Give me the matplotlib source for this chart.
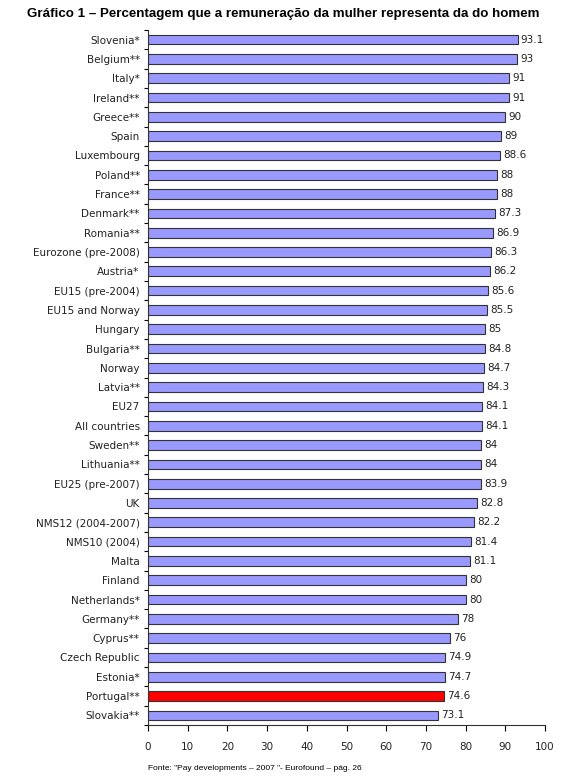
import matplotlib
matplotlib.use("Agg")
import matplotlib.pyplot as plt
import numpy as np

countries = ["Slovenia*", "Belgium**", "Italy*", "Ireland**", "Greece**", "Spain", "Luxembourg",
             "Poland**", "France**", "Denmark**", "Romania**", "Eurozone (pre-2008)", "Austria*",
             "EU15 (pre-2004)", "EU15 and Norway", "Hungary", "Bulgaria**", "Norway", "Latvia**",
             "EU27", "All countries", "Sweden**", "Lithuania**", "EU25 (pre-2007)", "UK",
             "NMS12 (2004-2007)", "NMS10 (2004)", "Malta", "Finland", "Netherlands*", "Germany**",
             "Cyprus**", "Czech Republic", "Estonia*", "Portugal**", "Slovakia**"]
values = [93.1, 93, 91, 91, 90, 89, 88.6, 88, 88, 87.3, 86.9, 86.3, 86.2, 85.6, 85.5, 85, 84.8,
          84.7, 84.3, 84.1, 84.1, 84, 84, 83.9, 82.8, 82.2, 81.4, 81.1, 80, 80, 78, 76, 74.9,
          74.7, 74.6, 73.1]
labels = ["93.1", "93", "91", "91", "90", "89", "88.6", "88", "88", "87.3", "86.9", "86.3", "86.2",
          "85.6", "85.5", "85", "84.8", "84.7", "84.3", "84.1", "84.1", "84", "84", "83.9", "82.8",
          "82.2", "81.4", "81.1", "80", "80", "78", "76", "74.9", "74.7", "74.6", "73.1"]
highlight = "Portugal**"
xticks = [0, 10, 20, 30, 40, 50, 60, 70, 80, 90, 100]
title = "Gráfico 1 – Percentagem que a remuneração da mulher representa da do homem"
source = "Fonte: \"Pay developments – 2007 \"- Eurofound – pág. 26"

fig = plt.figure(figsize=(5.67, 7.83), dpi=100)
n = len(countries)
top = 1 - 30 / 783
bottom = 1 - 725 / 783
ax = fig.add_axes([148 / 567, bottom, (545 - 148) / 567, top - bottom])

y = np.arange(n)
colors = ["#ff0000" if c == highlight else "#9999ff" for c in countries]
ax.barh(y, values, height=0.5, color=colors, edgecolor="#333333", linewidth=0.8)
for yi, v, lab in zip(y, values, labels):
    ax.text(v + 0.8, yi, lab, va="center", ha="left", fontsize=7.5, color="#222222",
            family="DejaVu Sans")

ax.set_ylim(n - 0.5, -0.5)
ax.set_xlim(0, 100)
ax.set_yticks(y)
ax.set_yticklabels(countries, fontsize=7.5, color="#222222", family="DejaVu Sans")
ax.tick_params(axis="y", length=0, pad=6)
ax.set_yticks(np.arange(n + 1) - 0.5, minor=True)
ax.tick_params(axis="y", which="minor", length=3, width=0.8)
ax.set_xticks(xticks)
ax.set_xticklabels([str(t) for t in xticks], fontsize=7.5, color="#222222", family="DejaVu Sans")
ax.tick_params(axis="x", length=4, width=0.8, pad=8)
for s in ["top", "right"]:
    ax.spines[s].set_visible(False)
for s in ["left", "bottom"]:
    ax.spines[s].set_linewidth(0.8)
    ax.spines[s].set_color("#333333")

fig.text(0.5, 1 - 14 / 783, title, ha="center", va="center", fontsize=9.6, fontweight="bold",
         family=["Liberation Sans Narrow", "Liberation Sans", "DejaVu Sans"])
fig.text(148 / 567, 1 - 768 / 783, source, ha="left", va="center", fontsize=6,
         family=["Liberation Sans Narrow", "Liberation Sans", "DejaVu Sans"])

fig.savefig("out.png", dpi=100)
